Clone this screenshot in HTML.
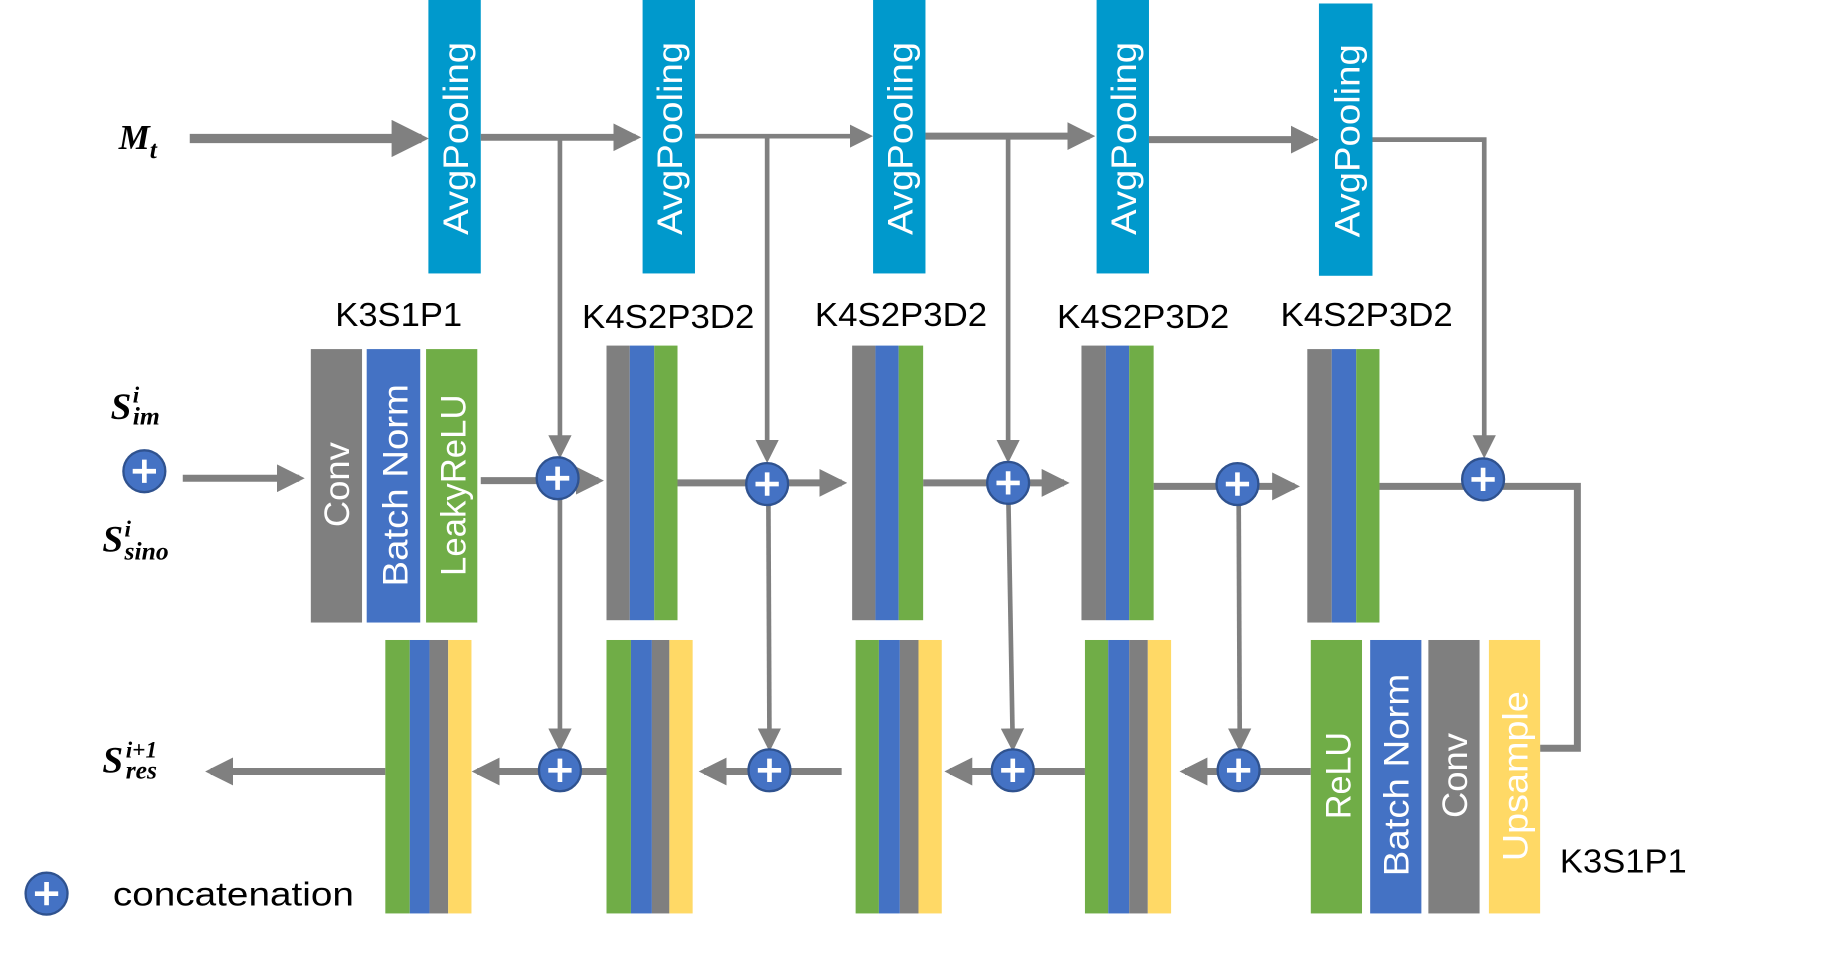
<!DOCTYPE html>
<html><head><meta charset="utf-8"><style>
html,body{margin:0;padding:0;background:#fff;overflow:hidden}
svg{display:block}
.w{fill:#fff;font-family:"Liberation Sans",sans-serif;font-size:30px}
.k{fill:#000;font-family:"Liberation Sans",sans-serif;font-size:29px}
.m{fill:#000;font-family:"Liberation Serif",serif;font-style:italic;font-weight:bold}
</style></head><body>
<svg width="1823" height="953" viewBox="0 0 1566 819" preserveAspectRatio="none" xmlns="http://www.w3.org/2000/svg">
<defs>
<marker id="a" markerWidth="4" markerHeight="4" refX="3.2" refY="2" orient="auto" markerUnits="strokeWidth"><path d="M0,0 L4,2 L0,4 z" fill="#808080"/></marker>
<marker id="b" markerWidth="5" markerHeight="5" refX="4" refY="2.5" orient="auto" markerUnits="strokeWidth"><path d="M0,0 L5,2.5 L0,5 z" fill="#808080"/></marker>
<g id="p"><circle r="18" fill="#4472C4" stroke="#2F528F" stroke-width="2"/><path d="M-10,0 H10 M0,-10 V10" stroke="#fff" stroke-width="4"/></g>
</defs>
<g fill="#0099CC">
<rect x="368" y="0" width="45" height="235"/><rect x="552" y="0" width="45" height="235"/><rect x="750" y="0" width="45" height="235"/><rect x="942" y="0" width="45" height="235"/><rect x="1133" y="3" width="46" height="234"/>
</g>
<g class="w">
<text transform="translate(402,202) rotate(-90)" textLength="166" lengthAdjust="spacingAndGlyphs">AvgPooling</text>
<text transform="translate(586,202) rotate(-90)" textLength="166" lengthAdjust="spacingAndGlyphs">AvgPooling</text>
<text transform="translate(784,202) rotate(-90)" textLength="166" lengthAdjust="spacingAndGlyphs">AvgPooling</text>
<text transform="translate(976,202) rotate(-90)" textLength="166" lengthAdjust="spacingAndGlyphs">AvgPooling</text>
<text transform="translate(1168,204) rotate(-90)" textLength="166" lengthAdjust="spacingAndGlyphs">AvgPooling</text>
</g>
<g stroke="#808080" fill="none">
<line x1="163" y1="119" x2="362" y2="119" stroke-width="8" marker-end="url(#a)"/>
<line x1="413" y1="118" x2="546" y2="118" stroke-width="6" marker-end="url(#a)"/>
<line x1="597" y1="117" x2="746" y2="117" stroke-width="4" marker-end="url(#b)"/>
<line x1="795" y1="117" x2="936" y2="117" stroke-width="6" marker-end="url(#a)"/>
<line x1="987" y1="120" x2="1128" y2="120" stroke-width="6" marker-end="url(#a)"/>
<polyline points="1179,120 1275,120 1275,390" stroke-width="4" marker-end="url(#b)"/>
<line x1="481" y1="118" x2="481" y2="390" stroke-width="4" marker-end="url(#b)"/>
<line x1="659" y1="117" x2="659" y2="394" stroke-width="4" marker-end="url(#b)"/>
<line x1="866" y1="117" x2="866" y2="394" stroke-width="4" marker-end="url(#b)"/>
<line x1="481" y1="410" x2="481" y2="642" stroke-width="4" marker-end="url(#b)"/>
<line x1="660" y1="416" x2="661" y2="642" stroke-width="4" marker-end="url(#b)"/>
<line x1="866" y1="416" x2="870" y2="642" stroke-width="4" marker-end="url(#b)"/>
<line x1="1064" y1="416" x2="1065" y2="642" stroke-width="4" marker-end="url(#b)"/>
<line x1="157" y1="411" x2="257" y2="411" stroke-width="6" marker-end="url(#a)"/>
<line x1="413" y1="413" x2="514" y2="413" stroke-width="6" marker-end="url(#a)"/>
<line x1="582" y1="415" x2="723" y2="415" stroke-width="6" marker-end="url(#a)"/>
<line x1="793" y1="415" x2="914" y2="415" stroke-width="6" marker-end="url(#a)"/>
<line x1="991" y1="418" x2="1112" y2="418" stroke-width="6" marker-end="url(#a)"/>
<polyline points="1185,418 1355,418 1355,643 1323,643" stroke-width="6"/>
<line x1="1126" y1="663" x2="1018" y2="663" stroke-width="6" marker-end="url(#a)"/>
<line x1="932" y1="663" x2="816" y2="663" stroke-width="6" marker-end="url(#a)"/>
<line x1="723" y1="663" x2="605" y2="663" stroke-width="6" marker-end="url(#a)"/>
<line x1="521" y1="663" x2="410" y2="663" stroke-width="6" marker-end="url(#a)"/>
<line x1="331" y1="663" x2="181" y2="663" stroke-width="6" marker-end="url(#a)"/>
</g>
<rect x="267" y="300" width="44" height="235" fill="#7F7F7F"/>
<rect x="315" y="300" width="46" height="235" fill="#4472C4"/>
<rect x="366" y="300" width="44" height="235" fill="#70AD47"/>
<text class="w" transform="translate(300,453) rotate(-90)" textLength="73" lengthAdjust="spacingAndGlyphs">Conv</text>
<text class="w" transform="translate(350,504) rotate(-90)" textLength="174" lengthAdjust="spacingAndGlyphs">Batch Norm</text>
<text class="w" transform="translate(400,495) rotate(-90)" textLength="156" lengthAdjust="spacingAndGlyphs">LeakyReLU</text>
<g>
<rect x="521" y="297" width="20" height="236" fill="#7F7F7F"/><rect x="541" y="297" width="21" height="236" fill="#4472C4"/><rect x="562" y="297" width="20" height="236" fill="#70AD47"/>
<rect x="732" y="297" width="20" height="236" fill="#7F7F7F"/><rect x="752" y="297" width="20" height="236" fill="#4472C4"/><rect x="772" y="297" width="21" height="236" fill="#70AD47"/>
<rect x="929" y="297" width="21" height="236" fill="#7F7F7F"/><rect x="950" y="297" width="20" height="236" fill="#4472C4"/><rect x="970" y="297" width="21" height="236" fill="#70AD47"/>
<rect x="1123" y="300" width="21" height="235" fill="#7F7F7F"/><rect x="1144" y="300" width="21" height="235" fill="#4472C4"/><rect x="1165" y="300" width="20" height="235" fill="#70AD47"/>
</g>
<g>
<rect x="331" y="550" width="21" height="235" fill="#70AD47"/><rect x="352" y="550" width="17" height="235" fill="#4472C4"/><rect x="369" y="550" width="16" height="235" fill="#7F7F7F"/><rect x="385" y="550" width="20" height="235" fill="#FFD966"/>
<rect x="521" y="550" width="21" height="235" fill="#70AD47"/><rect x="542" y="550" width="18" height="235" fill="#4472C4"/><rect x="560" y="550" width="15" height="235" fill="#7F7F7F"/><rect x="575" y="550" width="20" height="235" fill="#FFD966"/>
<rect x="735" y="550" width="20" height="235" fill="#70AD47"/><rect x="755" y="550" width="18" height="235" fill="#4472C4"/><rect x="773" y="550" width="16" height="235" fill="#7F7F7F"/><rect x="789" y="550" width="20" height="235" fill="#FFD966"/>
<rect x="932" y="550" width="20" height="235" fill="#70AD47"/><rect x="952" y="550" width="18" height="235" fill="#4472C4"/><rect x="970" y="550" width="16" height="235" fill="#7F7F7F"/><rect x="986" y="550" width="20" height="235" fill="#FFD966"/>
<rect x="1126" y="550" width="44" height="235" fill="#70AD47"/><rect x="1177" y="550" width="44" height="235" fill="#4472C4"/><rect x="1227" y="550" width="44" height="235" fill="#7F7F7F"/><rect x="1279" y="550" width="44" height="235" fill="#FFD966"/>
</g>
<text class="w" transform="translate(1160,704) rotate(-90)" textLength="75" lengthAdjust="spacingAndGlyphs">ReLU</text>
<text class="w" transform="translate(1210,753) rotate(-90)" textLength="174" lengthAdjust="spacingAndGlyphs">Batch Norm</text>
<text class="w" transform="translate(1260,703) rotate(-90)" textLength="73" lengthAdjust="spacingAndGlyphs">Conv</text>
<text class="w" transform="translate(1312,740) rotate(-90)" textLength="146" lengthAdjust="spacingAndGlyphs">Upsample</text>
<use href="#p" x="479" y="411"/><use href="#p" x="659" y="416"/><use href="#p" x="866" y="415"/><use href="#p" x="1063" y="416"/><use href="#p" x="1274" y="412"/>
<use href="#p" x="481" y="662"/><use href="#p" x="661" y="662"/><use href="#p" x="870" y="662"/><use href="#p" x="1064" y="662"/>
<use href="#p" x="124" y="405"/><use href="#p" x="40" y="768"/>
<text class="k" x="288" y="280" textLength="109" lengthAdjust="spacingAndGlyphs">K3S1P1</text>
<text class="k" x="500" y="282" textLength="148" lengthAdjust="spacingAndGlyphs">K4S2P3D2</text>
<text class="k" x="700" y="280" textLength="148" lengthAdjust="spacingAndGlyphs">K4S2P3D2</text>
<text class="k" x="908" y="282" textLength="148" lengthAdjust="spacingAndGlyphs">K4S2P3D2</text>
<text class="k" x="1100" y="280" textLength="148" lengthAdjust="spacingAndGlyphs">K4S2P3D2</text>
<text class="k" x="1340" y="750" textLength="109" lengthAdjust="spacingAndGlyphs">K3S1P1</text>
<text class="k" x="97" y="778" font-size="30" textLength="207" lengthAdjust="spacingAndGlyphs">concatenation</text>
<text class="m" x="102" y="128" font-size="30">M<tspan font-size="22" dy="8">t</tspan></text>
<text class="m" x="95" y="360" font-size="32">S</text><text class="m" x="114" y="346" font-size="20" font-style="normal">i</text><text class="m" x="114" y="365" font-size="22">im</text>
<text class="m" x="88" y="474" font-size="32">S</text><text class="m" x="107" y="461" font-size="20" font-style="normal">i</text><text class="m" x="107" y="481" font-size="22">sino</text>
<text class="m" x="88" y="664" font-size="32">S</text><text class="m" x="108" y="651" font-size="20" font-style="normal">i+1</text><text class="m" x="108" y="669" font-size="22">res</text>
</svg>
</body></html>
